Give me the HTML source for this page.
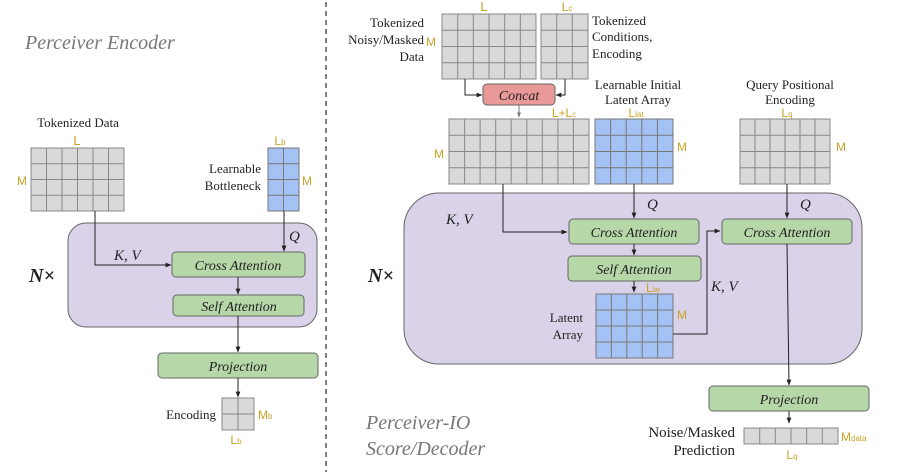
<!DOCTYPE html>
<html><head><meta charset="utf-8"><style>
html,body{margin:0;padding:0;background:#fff;}
svg{display:block;}
.s{font-family:"Liberation Serif",serif;fill:#222;}
.d{font-family:"Liberation Sans",sans-serif;fill:#c9a227;}
.g{fill:#d9d9d9;stroke:#888;stroke-width:1;}
.b{fill:#a4c2f4;stroke:#777;stroke-width:1;}
.gl{stroke:#888;stroke-width:1;fill:none;}
.bl{stroke:#777;stroke-width:1;fill:none;}
.box{fill:#b6d7a8;stroke:#666;stroke-width:1;}
.ln{stroke:#222;stroke-width:1;fill:none;}
.it{font-family:"Liberation Serif",serif;font-style:italic;fill:#222;}
</style></head><body>
<svg width="897" height="472" viewBox="0 0 897 472" xmlns="http://www.w3.org/2000/svg">
<defs><marker id="a" viewBox="0 0 10 10" refX="9" refY="5" markerWidth="6" markerHeight="6" orient="auto"><path d="M0,1 L10,5 L0,9z" fill="#222"/></marker>
<marker id="a2" viewBox="0 0 10 10" refX="9" refY="5" markerWidth="5" markerHeight="5" orient="auto"><path d="M0,1 L10,5 L0,9z" fill="#777"/></marker></defs>

<line x1="326" y1="2" x2="326" y2="472" stroke="#555" stroke-width="1.5" stroke-dasharray="5,4"/>

<!-- LEFT -->
<text x="25" y="49" class="it" font-size="20" fill="#777" style="fill:#777">Perceiver Encoder</text>
<text x="78" y="127" class="s" font-size="13" text-anchor="middle">Tokenized Data</text>
<text x="77" y="145" class="d" font-size="13" text-anchor="middle">L</text>
<text x="17" y="185" class="d" font-size="12">M</text>
<rect x="31" y="148" width="93" height="63" class="g"/>
<path class="gl" d="M46.5,148V211M62,148V211M77.5,148V211M93,148V211M108.5,148V211M31,163.75H124M31,179.5H124M31,195.25H124"/>
<text x="280" y="145" class="d" font-size="12" text-anchor="middle">L<tspan font-size="8">b</tspan></text>
<rect x="268" y="148" width="31" height="63" class="b"/>
<path class="bl" d="M283.5,148V211M268,163.75H299M268,179.5H299M268,195.25H299"/>
<text x="302" y="185" class="d" font-size="12">M</text>
<text x="261" y="173" class="s" font-size="13" text-anchor="end">Learnable</text>
<text x="261" y="190" class="s" font-size="13" text-anchor="end">Bottleneck</text>

<rect x="68" y="223" width="249" height="104" rx="18" fill="#d9d2e9" stroke="#666"/>
<text x="29" y="282" class="s" font-size="20" font-weight="bold" font-style="italic">N×</text>
<path class="ln" d="M95,211V265H171" marker-end="url(#a)"/>
<text x="114" y="260" class="it" font-size="15">K, V</text>
<path class="ln" d="M284,211V251" marker-end="url(#a)"/>
<text x="289" y="241" class="it" font-size="15">Q</text>
<rect x="172" y="252" width="133" height="25" rx="4" class="box"/>
<text x="238" y="270" class="it" font-size="14" text-anchor="middle">Cross Attention</text>
<path class="ln" d="M238,277V294" marker-end="url(#a)"/>
<rect x="173" y="295" width="131" height="21" rx="4" class="box"/>
<text x="239" y="311" class="it" font-size="14" text-anchor="middle">Self Attention</text>
<path class="ln" d="M238,316V352" marker-end="url(#a)"/>
<rect x="158" y="353" width="160" height="25" rx="4" class="box"/>
<text x="238" y="371" class="it" font-size="14" text-anchor="middle">Projection</text>
<path class="ln" d="M238,378V397" marker-end="url(#a)"/>
<rect x="222" y="398" width="32" height="32" class="g"/>
<path class="gl" d="M238,398V430M222,414H254"/>
<text x="216" y="419" class="s" font-size="13" text-anchor="end">Encoding</text>
<text x="258" y="419" class="d" font-size="12">M<tspan font-size="8">b</tspan></text>
<text x="236" y="444" class="d" font-size="12" text-anchor="middle">L<tspan font-size="8">b</tspan></text>

<!-- RIGHT -->
<text x="484" y="11" class="d" font-size="13" text-anchor="middle">L</text>
<text x="567" y="11" class="d" font-size="12" text-anchor="middle">L<tspan font-size="8">c</tspan></text>
<text x="424" y="27" class="s" font-size="13" text-anchor="end">Tokenized</text>
<text x="424" y="44" class="s" font-size="13" text-anchor="end">Noisy/Masked</text>
<text x="424" y="61" class="s" font-size="13" text-anchor="end">Data</text>
<text x="426" y="46" class="d" font-size="12">M</text>
<rect x="442" y="14" width="94" height="65" class="g"/>
<path class="gl" d="M457.7,14V79M473.3,14V79M489,14V79M504.7,14V79M520.3,14V79M442,30.25H536M442,46.5H536M442,62.75H536"/>
<rect x="541" y="14" width="47" height="65" class="g"/>
<path class="gl" d="M556.7,14V79M572.3,14V79M541,30.25H588M541,46.5H588M541,62.75H588"/>
<text x="592" y="25" class="s" font-size="13">Tokenized</text>
<text x="592" y="41" class="s" font-size="13">Conditions,</text>
<text x="592" y="58" class="s" font-size="13">Encoding</text>
<path class="ln" d="M465,79V95H482" marker-end="url(#a)"/>
<path class="ln" d="M565,79V95H556" marker-end="url(#a)"/>
<rect x="483" y="84" width="72" height="21" rx="4" fill="#ea9999" stroke="#666"/>
<text x="519" y="100" class="it" font-size="14" text-anchor="middle">Concat</text>
<path d="M519,105V117" stroke="#777" fill="none" marker-end="url(#a2)"/>
<text x="638" y="89" class="s" font-size="13" text-anchor="middle">Learnable Initial</text>
<text x="638" y="104" class="s" font-size="13" text-anchor="middle">Latent Array</text>
<text x="790" y="89" class="s" font-size="13" text-anchor="middle">Query Positional</text>
<text x="790" y="104" class="s" font-size="13" text-anchor="middle">Encoding</text>
<text x="564" y="117" class="d" font-size="12" text-anchor="middle">L+L<tspan font-size="8">c</tspan></text>
<text x="636" y="117" class="d" font-size="12" text-anchor="middle">L<tspan font-size="8">lat</tspan></text>
<text x="787" y="117" class="d" font-size="12" text-anchor="middle">L<tspan font-size="8">q</tspan></text>
<text x="434" y="158" class="d" font-size="12">M</text>
<rect x="449" y="119" width="140" height="65" class="g"/>
<path class="gl" d="M464.6,119V184M480.1,119V184M495.7,119V184M511.2,119V184M526.8,119V184M542.3,119V184M557.9,119V184M573.4,119V184M449,135.25H589M449,151.5H589M449,167.75H589"/>
<rect x="595" y="119" width="78" height="65" class="b"/>
<path class="bl" d="M610.6,119V184M626.2,119V184M641.8,119V184M657.4,119V184M595,135.25H673M595,151.5H673M595,167.75H673"/>
<text x="677" y="151" class="d" font-size="12">M</text>
<rect x="740" y="119" width="90" height="65" class="g"/>
<path class="gl" d="M755,119V184M770,119V184M785,119V184M800,119V184M815,119V184M740,135.25H830M740,151.5H830M740,167.75H830"/>
<text x="836" y="151" class="d" font-size="12">M</text>

<rect x="404" y="193" width="458" height="171" rx="35" fill="#d9d2e9" stroke="#666"/>
<text x="368" y="282" class="s" font-size="20" font-weight="bold" font-style="italic">N×</text>
<text x="446" y="224" class="it" font-size="15">K, V</text>
<path class="ln" d="M503,184V232H567" marker-end="url(#a)"/>
<path class="ln" d="M634,184V218" marker-end="url(#a)"/>
<text x="647" y="209" class="it" font-size="15">Q</text>
<rect x="569" y="219" width="130" height="25" rx="4" class="box"/>
<text x="634" y="237" class="it" font-size="14" text-anchor="middle">Cross Attention</text>
<path class="ln" d="M634,244V255" marker-end="url(#a)"/>
<rect x="568" y="256" width="133" height="25" rx="4" class="box"/>
<text x="634" y="274" class="it" font-size="14" text-anchor="middle">Self Attention</text>
<path class="ln" d="M634,281V292" marker-end="url(#a)"/>
<text x="653" y="292" class="d" font-size="12" text-anchor="middle">L<tspan font-size="7">lat</tspan></text>
<rect x="596" y="294" width="77" height="64" class="b"/>
<path class="bl" d="M611.4,294V358M626.8,294V358M642.2,294V358M657.6,294V358M596,310H673M596,326H673M596,342H673"/>
<text x="677" y="319" class="d" font-size="12">M</text>
<text x="583" y="322" class="s" font-size="13" text-anchor="end">Latent</text>
<text x="583" y="339" class="s" font-size="13" text-anchor="end">Array</text>
<path class="ln" d="M673,334H707V231H720" marker-end="url(#a)"/>
<text x="711" y="291" class="it" font-size="15">K, V</text>
<path class="ln" d="M787,184V218" marker-end="url(#a)"/>
<text x="800" y="209" class="it" font-size="15">Q</text>
<rect x="722" y="219" width="130" height="25" rx="4" class="box"/>
<text x="787" y="237" class="it" font-size="14" text-anchor="middle">Cross Attention</text>
<path class="ln" d="M787,244L789,385" marker-end="url(#a)"/>
<rect x="709" y="386" width="160" height="25" rx="4" class="box"/>
<text x="789" y="404" class="it" font-size="14" text-anchor="middle">Projection</text>
<path class="ln" d="M789,411V423" marker-end="url(#a)"/>
<rect x="744" y="428" width="94" height="16" class="g"/>
<path class="gl" d="M759.7,428V444M775.3,428V444M791,428V444M806.7,428V444M822.3,428V444"/>
<text x="841" y="441" class="d" font-size="12">M<tspan font-size="8">data</tspan></text>
<text x="792" y="459" class="d" font-size="12" text-anchor="middle">L<tspan font-size="8">q</tspan></text>
<text x="735" y="437" class="s" font-size="15" text-anchor="end">Noise/Masked</text>
<text x="735" y="455" class="s" font-size="15" text-anchor="end">Prediction</text>
<text x="366" y="429" class="it" font-size="20" style="fill:#777">Perceiver-IO</text>
<text x="366" y="455" class="it" font-size="20" style="fill:#777">Score/Decoder</text>
</svg>
</body></html>
